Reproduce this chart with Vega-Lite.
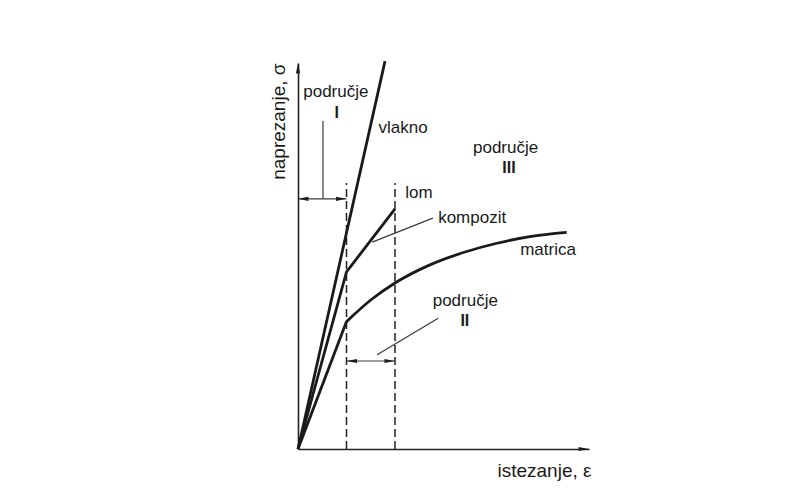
{
  "$schema": "https://vega.github.io/schema/vega-lite/v6.json",
  "width": 291,
  "height": 386,
  "autosize": {"type": "none"},
  "padding": {"left": 298, "top": 63, "right": 201, "bottom": 44},
  "background": "#ffffff",
  "config": {"view": {"stroke": null}, "font": "Liberation Sans"},
  "datasets": {
    "curves": [
      {"series": "vlakno", "ord": 0, "x": 0, "y": 0},
      {"series": "vlakno", "ord": 1, "x": 1.794, "y": 100.5},
      {"series": "kompozit", "ord": 0, "x": 0, "y": 0},
      {"series": "kompozit", "ord": 1, "x": 1.0, "y": 45.9},
      {"series": "kompozit", "ord": 2, "x": 2.0, "y": 62.2},
      {"series": "matrica_lin", "ord": 0, "x": 0, "y": 0},
      {"series": "matrica_lin", "ord": 1, "x": 1.0, "y": 33.0}
    ],
    "matrix": [
      {"ord": 0, "x": 1.0, "y": 33.0},
      {"ord": 1, "x": 1.5, "y": 38.6},
      {"ord": 2, "x": 2.0, "y": 43.0},
      {"ord": 3, "x": 2.72, "y": 47.7},
      {"ord": 4, "x": 3.41, "y": 50.9},
      {"ord": 5, "x": 4.10, "y": 53.3},
      {"ord": 6, "x": 4.78, "y": 55.0},
      {"ord": 7, "x": 5.54, "y": 56.1}
    ],
    "dashes": [
      {"x": 1.0, "y": 0, "y2": 68.9},
      {"x": 2.0, "y": 0, "y2": 68.9}
    ],
    "segs": [
      {"kind": "leader", "x": 0.515, "y": 85.0, "x2": 0.515, "y2": 64.8},
      {"kind": "shaft", "x": 0.0, "y": 64.8, "x2": 1.0, "y2": 64.8},
      {"kind": "leader", "x": 2.78, "y": 59.8, "x2": 1.53, "y2": 53.6},
      {"kind": "leader", "x": 2.89, "y": 33.9, "x2": 1.63, "y2": 24.4},
      {"kind": "shaft", "x": 1.0, "y": 22.8, "x2": 2.0, "y2": 22.8}
    ],
    "heads": [
      {"dir": "up", "x": 0, "y": 100},
      {"dir": "right", "x": 6, "y": 0},
      {"dir": "left", "x": 0.0, "y": 64.8},
      {"dir": "right", "x": 1.0, "y": 64.8},
      {"dir": "left", "x": 1.0, "y": 22.8},
      {"dir": "right", "x": 2.0, "y": 22.8}
    ],
    "labels": [
      {"style": "c", "text": "područje", "x": 0.78, "y": 92.4},
      {"style": "b", "text": "I", "x": 0.80, "y": 87.0},
      {"style": "c", "text": "vlakno", "x": 2.165, "y": 83.2},
      {"style": "c", "text": "područje", "x": 4.28, "y": 77.9},
      {"style": "b", "text": "III", "x": 4.35, "y": 72.9},
      {"style": "l", "text": "lom", "x": 2.21, "y": 66.3},
      {"style": "l", "text": "kompozit", "x": 2.89, "y": 59.8},
      {"style": "l", "text": "matrica", "x": 4.58, "y": 51.6},
      {"style": "c", "text": "područje", "x": 3.45, "y": 38.3},
      {"style": "b", "text": "II", "x": 3.44, "y": 33.2}
    ]
  },
  "encoding": {
    "x": {
      "field": "x", "type": "quantitative",
      "scale": {"domain": [0, 6], "nice": false, "zero": true},
      "axis": {
        "domain": true, "domainColor": "#222222", "domainWidth": 1.6,
        "ticks": false, "labels": false, "grid": false,
        "title": "istezanje, ε", "titleFont": "Liberation Sans", "titleFontSize": 19,
        "titleFontWeight": "normal", "titleColor": "#1a1a1a",
        "titleAlign": "right", "titleX": 293, "titleY": 21, "titleBaseline": "middle"
      }
    },
    "y": {
      "field": "y", "type": "quantitative",
      "scale": {"domain": [0, 100], "nice": false, "zero": true},
      "axis": {
        "domain": true, "domainColor": "#222222", "domainWidth": 1.6,
        "ticks": false, "labels": false, "grid": false,
        "title": "naprezanje, σ", "titleFont": "Liberation Sans", "titleFontSize": 19,
        "titleFontWeight": "normal", "titleColor": "#1a1a1a",
        "titleAngle": -90, "titleAlign": "right", "titleX": -20, "titleY": 0, "titleBaseline": "middle"
      }
    }
  },
  "layer": [
    {
      "data": {"name": "dashes"},
      "mark": {"type": "rule", "color": "#222222", "strokeWidth": 1.5, "strokeDash": [8, 4]},
      "encoding": {"y2": {"field": "y2"}}
    },
    {
      "data": {"name": "segs"},
      "mark": {"type": "rule", "color": "#3a3a3a", "strokeWidth": 1.2},
      "encoding": {"x2": {"field": "x2"}, "y2": {"field": "y2"}}
    },
    {
      "data": {"name": "curves"},
      "mark": {"type": "line", "color": "#1a1a1a", "strokeWidth": 2.8, "clip": false, "strokeJoin": "miter"},
      "encoding": {"detail": {"field": "series"}, "order": {"field": "ord"}}
    },
    {
      "data": {"name": "matrix"},
      "mark": {"type": "line", "color": "#1a1a1a", "strokeWidth": 2.8, "interpolate": "monotone"},
      "encoding": {"order": {"field": "ord"}}
    },
    {
      "data": {"name": "heads"},
      "mark": {"type": "point", "filled": true, "color": "#1e1e1e", "opacity": 1, "size": 100, "strokeWidth": 0, "clip": false},
      "encoding": {
        "shape": {
          "field": "dir", "type": "nominal", "legend": null,
          "scale": {"domain": ["up", "right", "left"], "range": ["M0,0L0.42,2.1L-0.42,2.1Z", "M0,0L-2.1,-0.42L-2.1,0.42Z", "M0,0L2.1,-0.42L2.1,0.42Z"]}
        }
      }
    },
    {
      "data": {"name": "labels"},
      "transform": [{"filter": "datum.style === 'c'"}],
      "mark": {"type": "text", "font": "Liberation Sans", "fontSize": 17, "color": "#1a1a1a", "align": "center", "baseline": "middle"},
      "encoding": {"text": {"field": "text"}}
    },
    {
      "data": {"name": "labels"},
      "transform": [{"filter": "datum.style === 'l'"}],
      "mark": {"type": "text", "font": "Liberation Sans", "fontSize": 17, "color": "#1a1a1a", "align": "left", "baseline": "middle"},
      "encoding": {"text": {"field": "text"}}
    },
    {
      "data": {"name": "labels"},
      "transform": [{"filter": "datum.style === 'b'"}],
      "mark": {"type": "text", "font": "Liberation Sans", "fontSize": 16, "fontWeight": "bold", "color": "#1a1a1a", "align": "center", "baseline": "middle"},
      "encoding": {"text": {"field": "text"}}
    }
  ]
}
